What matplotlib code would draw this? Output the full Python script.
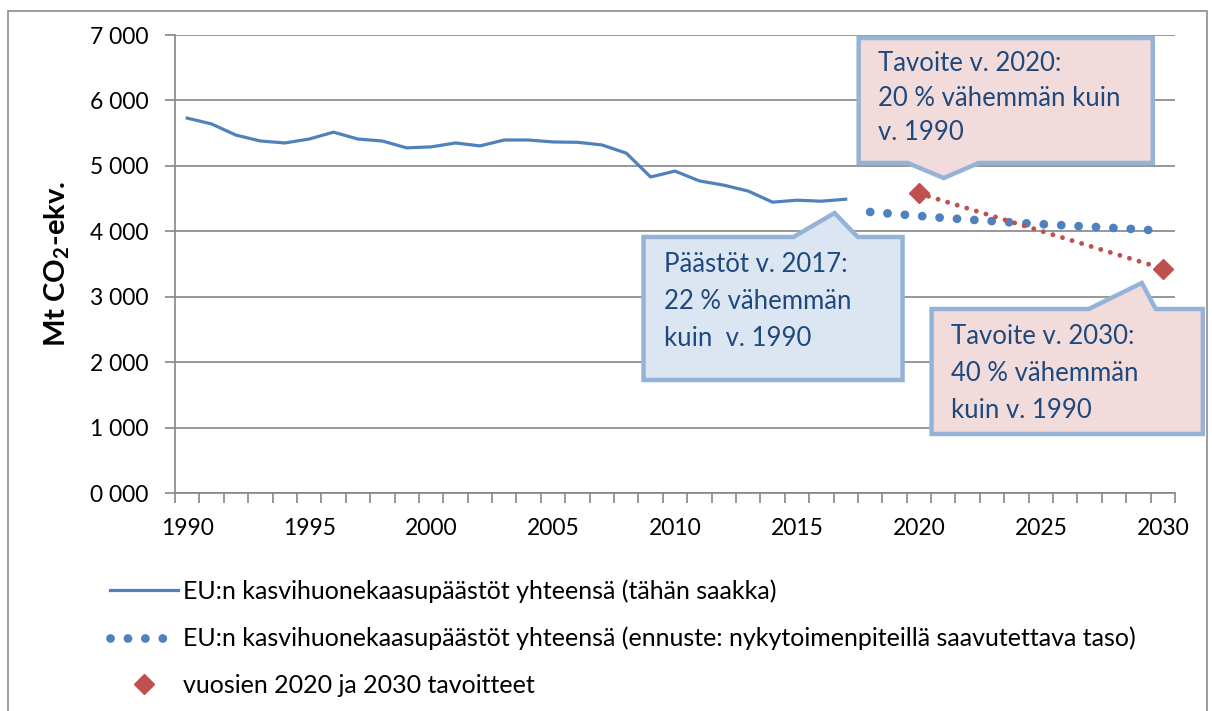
import matplotlib
matplotlib.use("Agg")
import matplotlib.pyplot as plt
from matplotlib.patches import Polygon, Rectangle
from matplotlib.lines import Line2D
from matplotlib.ticker import FixedLocator, FuncFormatter

plt.rcParams['font.family'] = ['Lato', 'DejaVu Sans']
plt.rcParams['mathtext.fontset'] = 'custom'
plt.rcParams['mathtext.rm'] = 'Lato'
plt.rcParams['mathtext.bf'] = 'Lato:bold'

# historical emissions (Mt CO2-eq)
years_hist = list(range(1990, 2018))
emis_hist = [5730, 5640, 5470, 5380, 5350, 5410, 5515, 5410, 5380, 5275,
             5290, 5350, 5305, 5395, 5395, 5365, 5360, 5320, 5195, 4830,
             4920, 4770, 4705, 4615, 4445, 4475, 4460, 4490]

# projection with current measures
years_proj = list(range(2018, 2031))
emis_proj = [4295, 4265, 4235, 4205, 4180, 4155, 4130, 4110, 4090, 4070,
             4050, 4030, 4005]

# targets
years_target = [2020, 2030]
emis_target = [4580, 3430]

labels = ["EU:n kasvihuonekaasupäästöt yhteensä (tähän saakka)",
          "EU:n kasvihuonekaasupäästöt yhteensä (ennuste: nykytoimenpiteillä saavutettava taso)",
          "vuosien 2020 ja 2030 tavoitteet"]

BLUE = '#4F81BD'
RED = '#C0504D'
GRID = '#868686'
TXT = '#1F497D'
EDGE = '#95B3D7'

fig = plt.figure(figsize=(12.12, 7.11), dpi=100)
ax = fig.add_axes([175 / 1212, 1 - 493 / 711, 1000 / 1212, 458 / 711])

# outer chart border
fig.patches.append(Rectangle((8 / 1212, -0.05), 1199 / 1212, 1.05 - 11 / 711,
                             transform=fig.transFigure, fill=False,
                             edgecolor='#8C8C8C', lw=1.2))

ax.plot(years_hist, emis_hist, color=BLUE, lw=2.3, solid_joinstyle='round', zorder=3)
ax.plot(years_proj, emis_proj, color=BLUE, lw=6.3, linestyle=(0, (0.01, 1.98)),
        dash_capstyle='round', zorder=3)
ax.plot(years_target, emis_target, color=RED, lw=3.5, linestyle=(0, (0.01, 2.05)),
        dash_capstyle='round', zorder=4)
ax.plot(years_target, emis_target, color=RED, linestyle='none', marker='D',
        markersize=10, zorder=4)

ax.set_xlim(1989.5, 2030.5)
ax.set_ylim(0, 7000)
ax.set_yticks(range(0, 7001, 1000))
ax.yaxis.set_major_formatter(FuncFormatter(lambda v, p: '%d %03d' % (v // 1000, v % 1000)))
ax.set_xticks(range(1990, 2031, 5))
ax.xaxis.set_minor_locator(FixedLocator([y + 0.5 for y in range(1989, 2031)]))
ax.tick_params(axis='x', which='major', length=0, pad=18, labelsize=16.5)
ax.tick_params(axis='x', which='minor', length=7, color=GRID, width=1.2)
ax.tick_params(axis='y', length=7, color=GRID, width=1.2, pad=12, labelsize=16.5)
ax.grid(axis='y', color=GRID, lw=1.2)
ax.set_axisbelow(True)
for s in ['top', 'right']:
    ax.spines[s].set_visible(False)
for s in ['left', 'bottom']:
    ax.spines[s].set_color(GRID)
    ax.spines[s].set_linewidth(1.2)

ax.set_ylabel(r'Mt CO$_\mathbf{2}$-ekv.', fontsize=21, fontweight='bold', labelpad=13)


def callout(x0, x1, y0, y1, base_l, base_r, tip, face, side):
    if side == 'top':
        pts = [(x0, y0), (x0, y1), (base_l, y1), tip, (base_r, y1), (x1, y1), (x1, y0)]
    else:
        pts = [(x0, y1), (x1, y1), (x1, y0), (base_r, y0), tip, (base_l, y0), (x0, y0)]
    ax.add_patch(Polygon(pts, closed=True, facecolor=face, edgecolor=EDGE, lw=3.2,
                         joinstyle='miter', clip_on=False, zorder=5))


callout(2008.71, 2019.33, 1727, 3913, 2014.86, 2017.49, (2016.54, 4279), '#DCE6F2', 'top')
ax.text(2009.53, 2934, "Päästöt v. 2017:\n22 % vähemmän\nkuin  v. 1990", color=TXT,
        fontsize=18.5, va='center', ha='left', linespacing=1.6, zorder=6)

callout(2017.53, 2029.59, 5044, 6954, 2019.54, 2022.45, (2021.02, 4814), '#F2DCDB', 'bottom')
ax.text(2018.31, 6037, "Tavoite v. 2020:\n20 % vähemmän kuin\nv. 1990", color=TXT,
        fontsize=18.5, va='center', ha='left', linespacing=1.47, zorder=6)

callout(2020.52, 2031.64, 902, 2812, 2026.96, 2029.71, (2029.14, 3210), '#F2DCDB', 'top')
ax.text(2021.3, 1834, "Tavoite v. 2030:\n40 % vähemmän\nkuin v. 1990", color=TXT,
        fontsize=18.5, va='center', ha='left', linespacing=1.6, zorder=6)

handles = [Line2D([], [], color=BLUE, lw=2.3),
           Line2D([], [], color=BLUE, lw=6.3, linestyle=(0, (0.01, 1.98)), dash_capstyle='round'),
           Line2D([], [], color=RED, linestyle='none', marker='D', markersize=10)]
fig.legend(handles, labels, loc='upper left', bbox_to_anchor=(98 / 1212, 1 - 567 / 711),
           frameon=False, fontsize=18, handlelength=2.7, handletextpad=0.2,
           labelspacing=0.95, borderpad=0)

fig.savefig('out.png', dpi=100)
